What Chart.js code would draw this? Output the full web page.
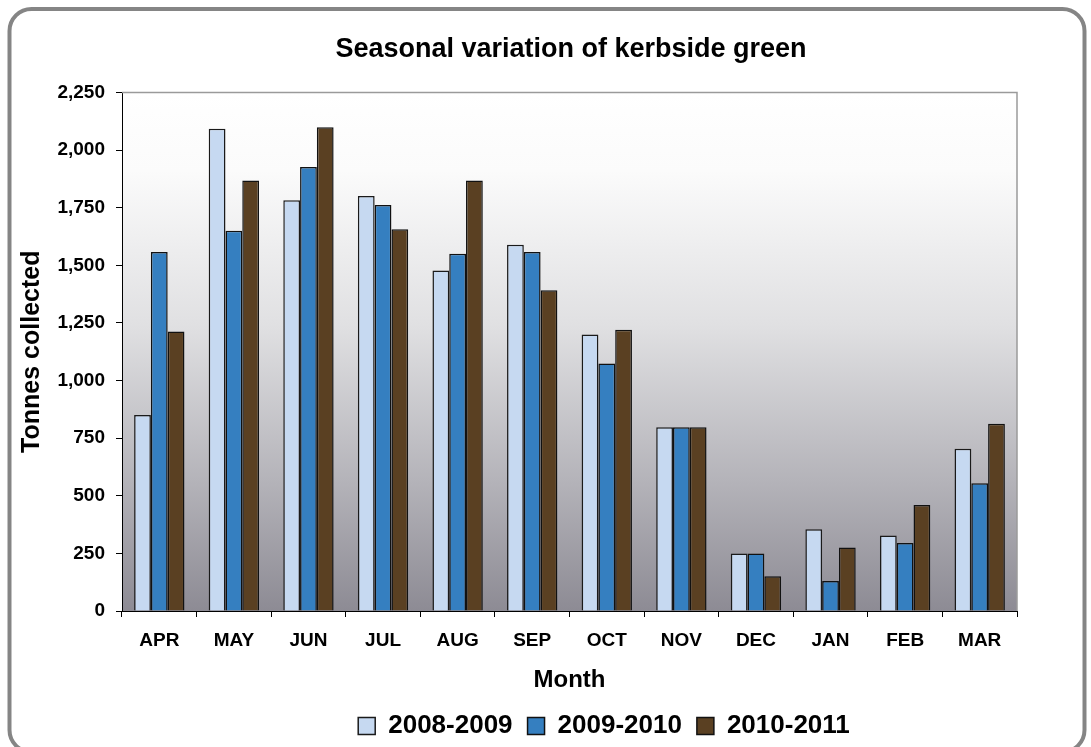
<!DOCTYPE html>
<html>
<head>
<meta charset="utf-8">
<title>Seasonal variation of kerbside green</title>
<script src="https://cdn.jsdelivr.net/npm/chart.js@4.4.1/dist/chart.umd.min.js"></script>
<style>
  html, body { margin: 0; padding: 0; background: #fff; }
  canvas { display: block; }
</style>
</head>
<body>
<canvas id="bar-chart" width="1091" height="747"></canvas>
<script>
// months of the season, april to march
var months = ['APR', 'MAY', 'JUN', 'JUL', 'AUG', 'SEP', 'OCT', 'NOV', 'DEC', 'JAN', 'FEB', 'MAR'];
var seasons = ['2008-2009', '2009-2010', '2010-2011'];

// tonnes collected per month
var tonnes0809 = [850, 2092, 1782, 1801, 1477, 1589, 1200, 797, 249, 355, 328, 704];
var tonnes0910 = [1558, 1650, 1926, 1762, 1550, 1558, 1074, 797, 249, 130, 295, 554];
var tonnes1011 = [1213, 1868, 2099, 1656, 1868, 1392, 1220, 797, 151, 276, 460, 812];

var yMax = 2250;
var yStep = 250;

var fontFam = 'Arial, "Liberation Sans", Helvetica, sans-serif';

// frame, gradient plot background and top/right outline
var decor = {
  id: 'decor',
  beforeDraw: function(chart) {
    var ctx = chart.ctx;
    var a = chart.chartArea;
    ctx.save();
    ctx.fillStyle = '#ffffff';
    ctx.fillRect(0, 0, chart.width, chart.height);

    var g = ctx.createLinearGradient(0, a.top, 0, a.bottom);
    g.addColorStop(0, '#ffffff');
    g.addColorStop(0.15, '#fbfbfb');
    g.addColorStop(0.45, '#e0e0e2');
    g.addColorStop(0.75, '#b4b3b9');
    g.addColorStop(1, '#8d8b94');
    ctx.fillStyle = g;
    ctx.fillRect(a.left, a.top, a.right - a.left, a.bottom - a.top);

    // rounded outer frame
    ctx.strokeStyle = '#858585';
    ctx.lineWidth = 4;
    ctx.beginPath();
    ctx.roundRect(9.5, 9, 1075, 743, 22);
    ctx.stroke();
    ctx.restore();
  },
  afterDatasetsDraw: function(chart) {
    var ctx = chart.ctx;
    var a = chart.chartArea;
    ctx.save();
    ctx.strokeStyle = '#9a9a9a';
    ctx.lineWidth = 1.5;
    ctx.beginPath();
    ctx.moveTo(a.left, a.top);
    ctx.lineTo(a.right, a.top);
    ctx.lineTo(a.right, a.bottom);
    ctx.stroke();
    ctx.restore();
  },
  afterLayout: function(chart) {
    // centre the title over the plot, move legend like the original
    var t = chart.titleBlock;
    t.left = 571 - 500;
    t.right = 571 + 500;
    var lg = chart.legend;
    var d = 604 - (lg.left + lg.right) / 2;
    lg.left += d;
    lg.right += d;
    var h = lg.height;
    lg.top = 698;
    lg.bottom = lg.top + h;
  }
};

var chartdata = {
  labels: months,
  datasets: [
    {
      label: seasons[0],
      backgroundColor: '#c6d9f1',
      borderColor: '#1a1a1a',
      borderWidth: 1.5,
      data: tonnes0809
    },
    {
      label: seasons[1],
      backgroundColor: '#357fc0',
      borderColor: '#111111',
      borderWidth: 1.5,
      data: tonnes0910
    },
    {
      label: seasons[2],
      backgroundColor: '#5a4022',
      borderColor: '#111111',
      borderWidth: 1.5,
      data: tonnes1011
    }
  ]
};

var ctx = document.getElementById('bar-chart');

var barGraph = new Chart(ctx, {
  type: 'bar',
  data: chartdata,
  plugins: [decor],
  options: {
    responsive: false,
    animation: false,
    devicePixelRatio: 1,
    categoryPercentage: 0.675,
    barPercentage: 1.0,
    layout: { padding: { left: 0, right: 74, top: 0, bottom: 1.6 } },
    font: { family: fontFam },
    plugins: {
      tooltip: { enabled: false },
      title: {
        display: true,
        text: 'Seasonal variation of kerbside green',
        color: '#000',
        font: { family: fontFam, size: 27, weight: 'bold' },
        padding: { top: 33, bottom: 27 }
      },
      legend: {
        position: 'bottom',
        labels: {
          color: '#000',
          font: { family: fontFam, size: 26, weight: 'bold' },
          boxWidth: 17,
          boxHeight: 17,
          padding: 15
        }
      }
    },
    scales: {
      x: {
        grid: { display: true, drawOnChartArea: false, drawTicks: true, tickLength: 6, color: '#000', offset: true },
        border: { display: true, color: '#000', width: 1 },
        ticks: {
          color: '#000',
          font: { family: fontFam, size: 19, weight: 'bold' },
          padding: 12,
          maxRotation: 0,
          autoSkip: false
        },
        title: {
          display: true,
          text: 'Month',
          color: '#000',
          font: { family: fontFam, size: 24, weight: 'bold' },
          padding: { top: 0, bottom: 0 }
        },
        afterFit: function(scale) { scale.height = 83.4; }
      },
      y: {
        min: 0,
        max: yMax,
        grid: { display: true, drawOnChartArea: false, drawTicks: true, tickLength: 6, color: '#000' },
        border: { display: true, color: '#000', width: 1 },
        ticks: {
          stepSize: yStep,
          color: '#000',
          font: { family: fontFam, size: 19, weight: 'bold' },
          padding: 11,
          callback: function(v) { return Number(v).toLocaleString('en-US'); }
        },
        title: {
          display: true,
          text: 'Tonnes collected',
          color: '#000',
          font: { family: fontFam, size: 25, weight: 'bold' },
          padding: { top: 17, bottom: 0 }
        },
        afterFit: function(scale) { scale.width = 122; }
      }
    }
  }
});
</script>
</body>
</html>
